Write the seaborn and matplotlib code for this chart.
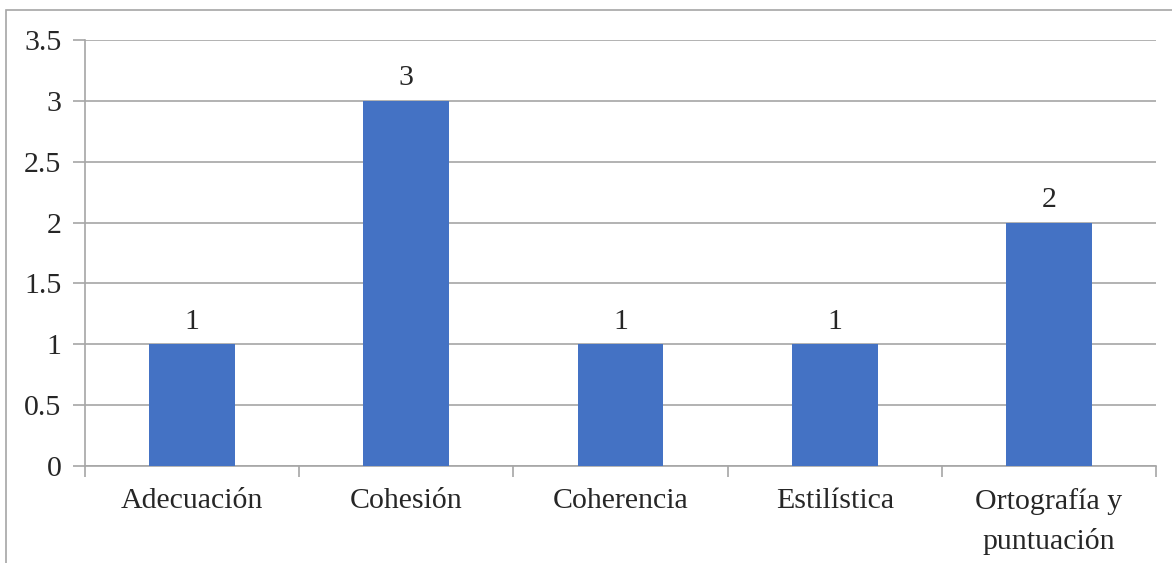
import matplotlib
matplotlib.use("Agg")
import matplotlib.pyplot as plt
import seaborn as sns
from matplotlib.patches import Rectangle

categorias = ["Adecuación", "Cohesión", "Coherencia", "Estilística", "Ortografía y\npuntuación"]
valores = [1, 3, 1, 1, 2]
yticks = [0, 0.5, 1, 1.5, 2, 2.5, 3, 3.5]
ytick_labels = ["0", "0.5", "1", "1.5", "2", "2.5", "3", "3.5"]

sns.set_style("white")
plt.rcParams["font.family"] = ["Liberation Serif", "DejaVu Serif"]

fig = plt.figure(figsize=(11.72, 5.63), dpi=100)
ax = fig.add_axes([85 / 1172, 1 - 466 / 563, (1156 - 85) / 1172, (466 - 40) / 563])

sns.barplot(x=categorias, y=valores, color="#4472C4", width=0.4, saturation=1,
            linewidth=0, ax=ax, zorder=3)

# outer chart frame
fig.patches.append(Rectangle((6 / 1172, -0.1), 1.2, 1.1 - 10 / 563, transform=fig.transFigure,
                             fill=False, edgecolor="#a6a6a6", linewidth=1.2))

ax.set_ylim(0, 3.5)
ax.set_xlim(-0.5, 4.5)
ax.set_yticks(yticks)
ax.set_yticklabels(ytick_labels, fontsize=21.5)
for lab in ax.get_xticklabels():
    lab.set_fontsize(21.5)
    lab.set_linespacing(1.6)
ax.tick_params(axis="x", which="major", bottom=False, length=0, pad=16)
ax.tick_params(axis="y", left=True, length=9, color="#a6a6a6", width=1.2, pad=8)
ax.yaxis.grid(True, color="#a6a6a6", linewidth=1.2, zorder=0)
ax.set_axisbelow(True)

# category boundary ticks on x axis
ax.set_xticks([i - 0.5 for i in range(6)], minor=True)
ax.tick_params(axis="x", which="minor", bottom=True, length=8, color="#a6a6a6", width=1.2, direction="out")

for s in ["top", "right"]:
    ax.spines[s].set_visible(False)
for s in ["left", "bottom"]:
    ax.spines[s].set_color("#a6a6a6")
    ax.spines[s].set_linewidth(1.2)

ax.bar_label(ax.containers[0], labels=[str(v) for v in valores], fontsize=21.5, padding=7)

fig.savefig("out.png", dpi=100)
